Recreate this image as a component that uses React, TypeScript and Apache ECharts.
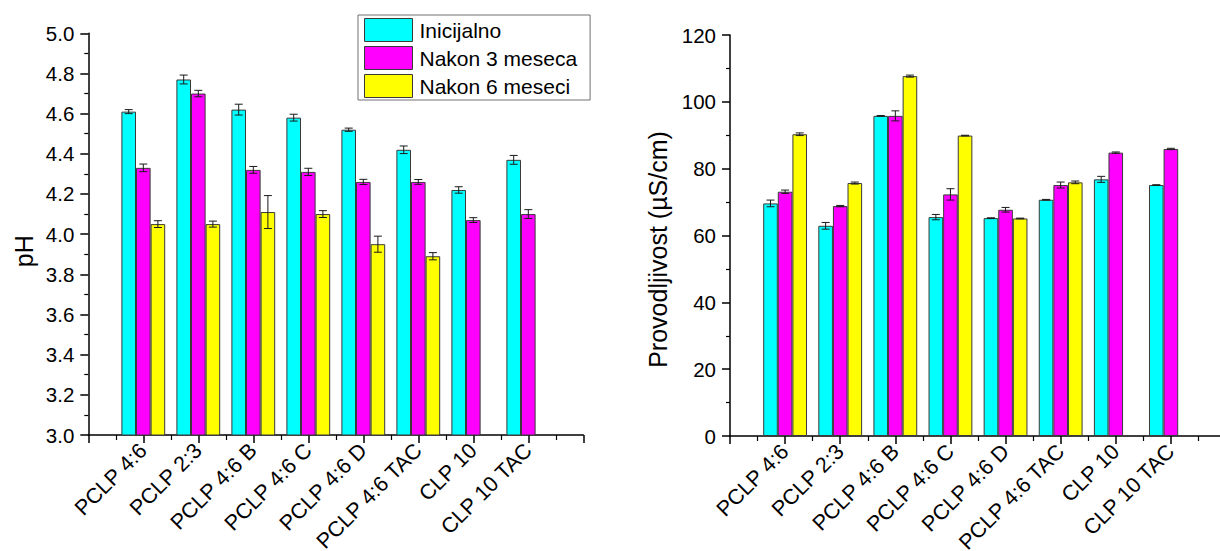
import React, { useEffect, useRef } from 'react';
import * as echarts from 'echarts';

// Sample names on the x axis (positions 1..8 on a 0..9 value axis)
const categories = [
  'PCLP 4:6',
  'PCLP 2:3',
  'PCLP 4:6 B',
  'PCLP 4:6 C',
  'PCLP 4:6 D',
  'PCLP 4:6 TAC',
  'CLP 10',
  'CLP 10 TAC',
];

const seriesNames = ['Inicijalno', 'Nakon 3 meseca', 'Nakon 6 meseci'];
const seriesColors = ['#00FFFF', '#FF00FF', '#FFFF00'];

// pH values and their standard deviations
const phInitial = [4.61, 4.77, 4.62, 4.58, 4.52, 4.42, 4.22, 4.37];
const phAfter3 = [4.33, 4.7, 4.32, 4.31, 4.26, 4.26, 4.07, 4.1];
const phAfter6 = [4.05, 4.05, 4.11, 4.1, 3.95, 3.89, null, null];
const phInitialErr = [0.01, 0.022, 0.027, 0.017, 0.008, 0.019, 0.016, 0.022];
const phAfter3Err = [0.019, 0.016, 0.017, 0.018, 0.013, 0.012, 0.012, 0.022];
const phAfter6Err = [0.017, 0.015, 0.082, 0.017, 0.04, 0.018, null, null];

// Conductivity (µS/cm) values and their standard deviations
const condInitial = [69.6, 62.9, 95.8, 65.5, 65.2, 70.7, 76.8, 75.1];
const condAfter3 = [73.1, 68.8, 95.8, 72.3, 67.7, 75.1, 84.8, 85.9];
const condAfter6 = [90.3, 75.7, 107.7, 89.9, 65.1, 75.9, null, null];
const condInitialErr = [1.0, 1.0, 0.1, 0.8, 0.1, 0.1, 0.9, 0.1];
const condAfter3Err = [0.5, 0.2, 1.5, 1.7, 0.7, 0.9, 0.2, 0.2];
const condAfter6Err = [0.4, 0.3, 0.3, 0.1, 0.1, 0.4, null, null];

const FONT = 'Liberation Sans, Arial, sans-serif';
const BAR_W = 14.6;

type Num = number | null;

function barPoints(values: Num[]) {
  const out: [number, number][] = [];
  values.forEach((v, i) => {
    if (v !== null) out.push([i + 1, v]);
  });
  return out;
}

function errPoints(values: Num[], errs: Num[], slot: number) {
  const out: number[][] = [];
  values.forEach((v, i) => {
    const e = errs[i];
    if (v !== null && e !== null) out.push([i + 1, v, e, slot]);
  });
  return out;
}

function xAxisFor(gridIndex: number) {
  return {
    type: 'value',
    gridIndex,
    min: 0,
    max: 9,
    interval: 1,
    splitLine: { show: false },
    axisLine: { show: true, lineStyle: { color: '#000', width: 1.5 } },
    axisTick: { show: true, length: 8, lineStyle: { color: '#000', width: 1.5 } },
    minorTick: { show: true, splitNumber: 2, length: 5, lineStyle: { color: '#000', width: 1.2 } },
    axisLabel: {
      rotate: 45,
      margin: 12,
      fontSize: 21.5,
      fontFamily: FONT,
      color: '#000',
      showMinLabel: false,
      showMaxLabel: false,
      formatter: (v: number) => categories[v - 1] ?? '',
    },
  };
}

function errorRender(params: any, api: any) {
  const x = api.value(0);
  const v = api.value(1);
  const e = api.value(2);
  const slot = api.value(3);
  const top = api.coord([x, v + e]);
  const bot = api.coord([x, v - e]);
  const cx = top[0] + (slot - 1) * BAR_W;
  const cap = 4;
  const style = { stroke: '#1a1a1a', lineWidth: 1 };
  return {
    type: 'group',
    children: [
      { type: 'line', shape: { x1: cx, y1: top[1], x2: cx, y2: bot[1] }, style },
      { type: 'line', shape: { x1: cx - cap, y1: top[1], x2: cx + cap, y2: top[1] }, style },
      { type: 'line', shape: { x1: cx - cap, y1: bot[1], x2: cx + cap, y2: bot[1] }, style },
    ],
  };
}

function barSeries(name: string, color: string, values: Num[], axisIndex: number) {
  return {
    type: 'bar',
    name,
    xAxisIndex: axisIndex,
    yAxisIndex: axisIndex,
    data: barPoints(values),
    barWidth: BAR_W,
    barGap: '0%',
    itemStyle: { color, borderColor: '#3a3a3a', borderWidth: 1 },
    z: 2,
  };
}

function errSeries(id: string, values: Num[], errs: Num[], slot: number, axisIndex: number) {
  return {
    type: 'custom',
    name: id,
    xAxisIndex: axisIndex,
    yAxisIndex: axisIndex,
    data: errPoints(values, errs, slot),
    encode: { x: 0, y: 1 },
    renderItem: errorRender,
    z: 5,
    silent: true,
  };
}

export default function App() {
  const ref = useRef<HTMLDivElement>(null);

  useEffect(() => {
    if (!ref.current) return;
    const chart = echarts.init(ref.current, undefined, { renderer: 'svg' });

    const phSets = [
      [phInitial, phInitialErr],
      [phAfter3, phAfter3Err],
      [phAfter6, phAfter6Err],
    ] as const;
    const condSets = [
      [condInitial, condInitialErr],
      [condAfter3, condAfter3Err],
      [condAfter6, condAfter6Err],
    ] as const;

    const series: any[] = [];
    phSets.forEach(([vals], k) => series.push(barSeries(seriesNames[k], seriesColors[k], vals as Num[], 0)));
    condSets.forEach(([vals], k) => series.push(barSeries(seriesNames[k], seriesColors[k], vals as Num[], 1)));
    phSets.forEach(([vals, errs], k) => series.push(errSeries('ph-err-' + k, vals as Num[], errs as Num[], k, 0)));
    condSets.forEach(([vals, errs], k) => series.push(errSeries('cond-err-' + k, vals as Num[], errs as Num[], k, 1)));

    chart.setOption({
      animation: false,
      backgroundColor: '#fff',
      grid: [
        { left: 88.3, top: 33.3, width: 495, height: 401.7, outerBoundsMode: 'none', containLabel: false },
        { left: 730, top: 35, width: 496, height: 401, outerBoundsMode: 'none', containLabel: false },
      ],
      legend: {
        data: seriesNames,
        orient: 'vertical',
        left: 358,
        top: 15,
        itemWidth: 48,
        itemHeight: 23,
        itemGap: 4,
        padding: [3, 13, 2, 6],
        borderColor: '#707070',
        borderWidth: 1,
        icon: 'rect',
        selectedMode: false,
        itemStyle: { borderColor: '#3a3a3a', borderWidth: 1 },
        textStyle: { fontSize: 21, fontFamily: FONT, color: '#000', padding: [0, 0, 0, 2] },
      },
      xAxis: [xAxisFor(0), xAxisFor(1)],
      yAxis: [
        {
          type: 'value',
          gridIndex: 0,
          min: 3.0,
          max: 5.0,
          interval: 0.2,
          name: 'pH',
          nameLocation: 'middle',
          nameGap: 52,
          nameTextStyle: { fontSize: 25, fontFamily: FONT, color: '#000', padding: [0, 34, 0, 0] },
          splitLine: { show: false },
          axisLine: { show: true, lineStyle: { color: '#000', width: 1.5 } },
          axisTick: { show: true, length: 8, lineStyle: { color: '#000', width: 1.5 } },
          minorTick: { show: true, splitNumber: 2, length: 4, lineStyle: { color: '#000', width: 1.2 } },
          axisLabel: {
            margin: 14,
            fontSize: 20.5,
            fontFamily: FONT,
            color: '#000',
            formatter: (v: number) => v.toFixed(1),
          },
        },
        {
          type: 'value',
          gridIndex: 1,
          min: 0,
          max: 120,
          interval: 20,
          name: 'Provodljivost (µS/cm)',
          nameLocation: 'middle',
          nameGap: 60,
          nameTextStyle: { fontSize: 25, fontFamily: FONT, color: '#000', padding: [0, 28, 0, 0] },
          splitLine: { show: false },
          axisLine: { show: true, lineStyle: { color: '#000', width: 1.5 } },
          axisTick: { show: true, length: 8, lineStyle: { color: '#000', width: 1.5 } },
          minorTick: { show: true, splitNumber: 2, length: 4, lineStyle: { color: '#000', width: 1.2 } },
          axisLabel: {
            margin: 14,
            fontSize: 20.5,
            fontFamily: FONT,
            color: '#000',
          },
        },
      ],
      series,
    });

    return () => chart.dispose();
  }, []);

  return (
    <div
      ref={ref}
      style={{ position: 'absolute', left: 0, top: 0, width: 1220, height: 551, background: '#fff' }}
    />
  );
}
